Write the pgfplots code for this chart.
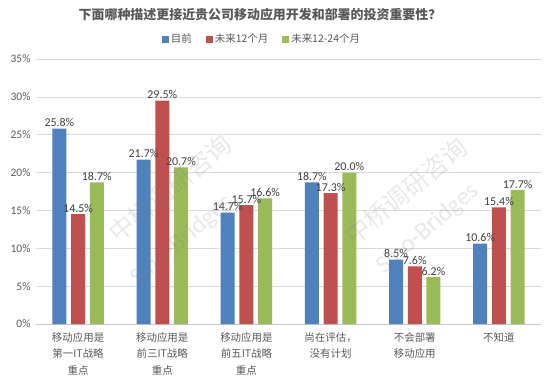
\documentclass[border=0pt]{standalone}
\usepackage{pgfplots}
\pgfplotsset{compat=1.18}
\usepackage{fontspec}
\setmainfont{Carlito}
\newfontfamily\cjk{Noto Sans CJK SC}
\definecolor{cblue}{HTML}{4F81BD}
\definecolor{cred}{HTML}{C0504D}
\definecolor{cgreen}{HTML}{9BBB59}
\definecolor{txt}{HTML}{595959}
\definecolor{lbl}{HTML}{404040}
\definecolor{gridc}{HTML}{D9D9D9}
\begin{document}
\begin{tikzpicture}[x=1bp,y=1bp]
\path[use as bounding box] (0,0) rectangle (550,381);
\begin{axis}[
  at={(36bp,57bp)}, anchor=south west,
  scale only axis, width=505bp, height=265bp,
  xmin=-0.5, xmax=5.5, ymin=0, ymax=35,
  ytick={0,5,...,35},
  xtick={0,1,2,3,4,5},
  xticklabels={{\cjk 移动应用是\\\cjk 第一IT战略\\\cjk 重点},{\cjk 移动应用是\\\cjk 前三IT战略\\\cjk 重点},{\cjk 移动应用是\\\cjk 前五IT战略\\\cjk 重点},{\cjk 尚在评估，\\\cjk 没有计划},{\cjk 不会部署\\\cjk 移动应用},{\cjk 不知道}},
  xticklabel style={align=center, font=\fontsize{10.5}{16.5}\selectfont, text=txt, anchor=north, yshift=-5bp},
  yticklabel={\pgfmathprintnumber[assume math mode=true]{\tick}\%},
  yticklabel style={font=\fontsize{11.5}{13}\selectfont, text=txt, xshift=-2bp},
  axis line style={draw=none},
  major tick length=0pt,
  ymajorgrids, grid style={gridc, line width=0.7pt},
  ybar, bar width=14bp,
  nodes near coords={\pgfmathprintnumber[fixed,fixed zerofill,precision=1,assume math mode=true]{\pgfplotspointmeta}\%},
  every node near coord/.append style={font=\fontsize{12}{14}\selectfont, text=lbl, inner sep=1.5bp},
  legend columns=3,
  legend style={at={(0.4475,1.075)}, anchor=center, draw=none, fill=none, font=\cjk\fontsize{10.5}{12}\selectfont, text=txt, /tikz/every even column/.append style={column sep=12bp}},
  legend image code/.code={\fill[#1] (0bp,-3.5bp) rectangle (7bp,3.5bp);},
  clip=false,
]
\draw[gridc!80!gray, line width=0.8pt] (axis cs:-0.5,0) -- (axis cs:5.5,0);
\addplot[fill=cblue, draw=none, bar shift=-18.7bp] coordinates {(0,25.8) (1,21.7) (2,14.7) (3,18.7) (4,8.5) (5,10.6)};
\addplot[fill=cred, draw=none, bar shift=0bp] coordinates {(0,14.5) (1,29.5) (2,15.7) (3,17.3) (4,7.6) (5,15.4)};
\addplot[fill=cgreen, draw=none, bar shift=18.7bp] coordinates {(0,18.7) (1,20.7) (2,16.6) (3,20.0) (4,6.2) (5,17.7)};
\legend{目前,未来12个月,未来12-24个月}
\end{axis}
\node[font=\cjk\bfseries\fontsize{13}{15}\selectfont, text=txt] at (260,366) {下面哪种描述更接近贵公司移动应用开发和部署的投资重要性？};
\begin{scope}[opacity=0.18]
\node[rotate=40, font=\cjk\fontsize{25}{27}\selectfont, text=gray] at (170,193) {中桥调研咨询};
\node[rotate=40, font=\fontsize{25}{27}\selectfont, text=gray] at (182,140) {Sino-Bridges};
\node[rotate=40, font=\cjk\fontsize{25}{27}\selectfont, text=gray] at (406,190) {中桥调研咨询};
\node[rotate=40, font=\fontsize{25}{27}\selectfont, text=gray] at (428,152) {Sino-Bridges};
\end{scope}
\end{tikzpicture}
\end{document}
